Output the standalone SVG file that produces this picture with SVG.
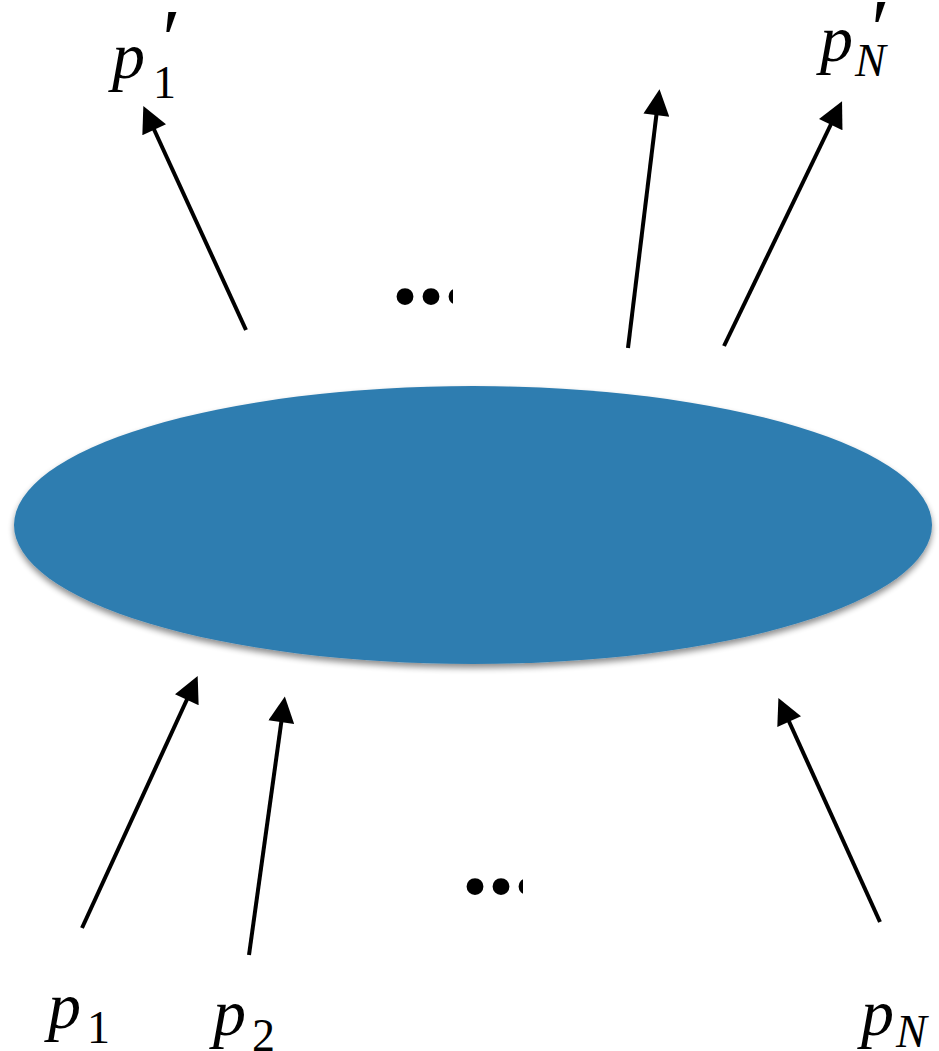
<svg xmlns="http://www.w3.org/2000/svg" width="939" height="1051" viewBox="0 0 939 1051">
<style>
text{font-family:'Liberation Serif','Times New Roman',Times,serif}
.lbl{fill:#000}
.it{font-style:italic}
.dots{font-weight:bold;font-size:104px;fill:#000}
.arr{stroke:#000;stroke-width:4;fill:none;marker-end:url(#ah)}
</style>
<defs>
<marker id="ah" viewBox="0 0 10 10" refX="2" refY="5" markerWidth="7" markerHeight="6.5" orient="auto" markerUnits="strokeWidth">
<path d="M0,0 L10,5 L0,10 Z" fill="#000"/>
</marker>
<filter id="sh" x="-5%" y="-10%" width="110%" height="125%">
<feGaussianBlur in="SourceAlpha" stdDeviation="3"/>
<feOffset dx="0" dy="4"/>
<feComponentTransfer><feFuncA type="linear" slope="0.45"/></feComponentTransfer>
<feMerge><feMergeNode/><feMergeNode in="SourceGraphic"/></feMerge>
</filter>
<clipPath id="c1"><rect x="380" y="260" width="73" height="60"/></clipPath>
<clipPath id="c2"><rect x="450" y="850" width="73" height="60"/></clipPath>
</defs>
<rect width="939" height="1051" fill="#fff"/>
<g id="blob">
<ellipse cx="473" cy="525" rx="459" ry="139" fill="#2f7db0" filter="url(#sh)"/>
</g>
<g id="connectors">
<line class="arr" x1="246" y1="330" x2="152" y2="125"/>
<line class="arr" x1="628" y1="348" x2="657" y2="110"/>
<line class="arr" x1="724" y1="346" x2="833" y2="120"/>
<line class="arr" x1="82" y1="928" x2="189" y2="695"/>
<line class="arr" x1="249" y1="955" x2="282" y2="717"/>
<line class="arr" x1="880" y1="922" x2="787" y2="717"/>
</g>
<g id="dots-top"><text class="dots" x="392" y="304" clip-path="url(#c1)">...</text></g>
<g id="dots-bottom"><text class="dots" x="462" y="894" clip-path="url(#c2)">...</text></g>
<g id="label-p1prime">
<text class="lbl" x="112" y="78" font-size="66"><tspan class="it">p</tspan><tspan font-size="46" dx="8" dy="20">1</tspan></text>
<text class="lbl it" x="157" y="68" font-size="84">′</text>
</g>
<g id="label-pNprime">
<text class="lbl" x="820" y="61" font-size="66"><tspan class="it">p</tspan><tspan class="it" font-size="46" dx="2" dy="15">N</tspan></text>
<text class="lbl it" x="866" y="58" font-size="84">′</text>
</g>
<g id="label-p1">
<text class="lbl" x="48" y="1028" font-size="66"><tspan class="it">p</tspan><tspan font-size="46" dx="6" dy="15">1</tspan></text>
</g>
<g id="label-p2">
<text class="lbl" x="213" y="1035" font-size="66"><tspan class="it">p</tspan><tspan font-size="46" dx="6" dy="16">2</tspan></text>
</g>
<g id="label-pN">
<text class="lbl" x="861" y="1035" font-size="66"><tspan class="it">p</tspan><tspan class="it" font-size="46" dx="2" dy="12">N</tspan></text>
</g>
</svg>
